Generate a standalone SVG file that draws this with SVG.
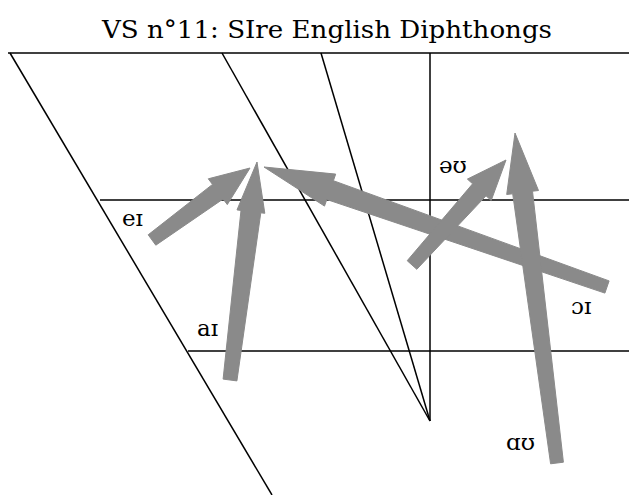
<svg xmlns="http://www.w3.org/2000/svg" width="629" height="495" viewBox="0 0 629 495">
<style>
.ln{stroke:#000;stroke-width:1.5;fill:none}
.ar{fill:#8a8a8a;stroke:#8a8a8a;stroke-width:1;stroke-linejoin:round}
.lb{font-family:"DejaVu Serif","Liberation Serif",serif;font-size:23px;fill:#000}
.tt{font-family:"DejaVu Serif","Liberation Serif",serif;font-size:24px;fill:#000}
</style>
<rect width="629" height="495" fill="#fff"/>
<text class="tt" x="102" y="38" textLength="450" lengthAdjust="spacingAndGlyphs">VS n°11: SIre English Diphthongs</text>
<g id="chart">
<path class="ln" d="M8,53 H629"/>
<path class="ln" d="M10,53 L272,495"/>
<path class="ln" d="M222,53 L430,421"/>
<path class="ln" d="M321,53 L430,421"/>
<path class="ln" d="M430,53 V421"/>
<path class="ln" d="M100,200 H629"/>
<path class="ln" d="M188,351 H629"/>
</g>
<g id="connectors">
<polygon class="ar" points="148.2,234.8 212.5,184.4 208.3,178.8 250,168 227.3,204.6 223.1,199.0 155.8,245.2"/>
<polygon class="ar" points="223.1,379.1 241.0,210.4 237.0,209.9 257,162 264.8,213.3 260.8,212.8 236.9,380.9"/>
<polygon class="ar" points="609.1,280.9 333.4,180.7 335.7,174.1 264,167 324.5,206.1 326.8,199.5 604.9,293.1"/>
<polygon class="ar" points="407.2,260.7 472.6,183.8 467.4,179.1 506,160 491.2,200.5 486.0,195.8 416.8,269.3"/>
<polygon class="ar" points="550.6,463.8 512.7,193.8 506.7,194.5 515,133 538.5,190.5 532.5,191.2 563.4,462.2"/>
</g>
<g id="n-ei"><text class="lb" x="122" y="226">eɪ</text></g>
<g id="n-ai"><text class="lb" x="197" y="336">aɪ</text></g>
<g id="n-ou"><text class="lb" x="439" y="173">əʊ</text></g>
<g id="n-oi"><text class="lb" x="571" y="314">ɔɪ</text></g>
<g id="n-au"><text class="lb" x="506" y="450">ɑʊ</text></g>
</svg>
